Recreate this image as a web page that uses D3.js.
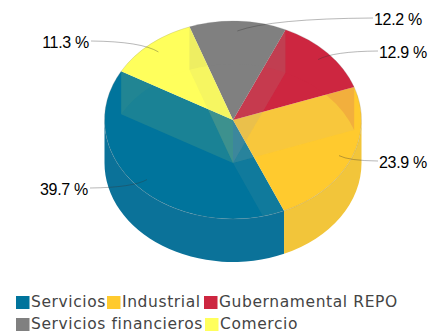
<!DOCTYPE html>
<html>
<head>
<meta charset="utf-8">
<script src="https://cdn.jsdelivr.net/npm/d3@7"></script>
<style>
  html, body { margin: 0; padding: 0; background: #fff; }
  svg { display: block; }
</style>
</head>
<body>
<div id="chart"></div>
<script>
// shares of the portfolio by sector, in percent
var categories = ["Servicios", "Industrial", "Gubernamental REPO", "Servicios financieros", "Comercio"];
var shares = [39.7, 23.9, 12.9, 12.2, 11.3];
var colors = ["#00749c", "#ffca2e", "#cd2640", "#808080", "#ffff5c"];
var sideColors = ["#0b7299", "#f2c53a", "#cd2640", "#808080", "#ffff5c"];
var wallTints = ["#00749c", "#e8d8a0", "#b8a8a0", "#9a9a9a", "#ffff5c"];
var wallAlpha = [0, 0.07, 0.07, 0.1, 0.1];
var rimAlpha = [0, 0, 0.15, 0.07, 0.03];

var width = 430, height = 332;
var cx = 233, cy = 120, rx = 128.5, ry = 99, depth = 43;
var rad = Math.PI / 180;

// label placement, same order as categories
var labelLayout = [
  {x: 90, y: 188, side: "left"},
  {x: 379, y: 161, side: "right"},
  {x: 379, y: 51, side: "right"},
  {x: 374, y: 18, side: "right"},
  {x: 91, y: 41, side: "left"}
];

var svg = d3.select("#chart").append("svg")
  .attr("width", width)
  .attr("height", height);

// pie runs counterclockwise, starting at the Comercio / Servicios edge
var pie = d3.pie().sort(null)
  .startAngle(299.5 * rad)
  .endAngle((299.5 - 360) * rad);
var slices = pie(shares).map(function(d, i) {
  return {a0: d.endAngle, a1: d.startAngle, i: i};
});

function pt(a, dy, k) {
  k = k === undefined ? 1 : k;
  return [cx + rx * k * Math.sin(a), cy - ry * k * Math.cos(a) + (dy || 0)];
}

// band between rim and rim pushed down by depth, a0 < a1
function band(a0, a1) {
  var p0 = pt(a0), p1 = pt(a1), q1 = pt(a1, depth), q0 = pt(a0, depth);
  return "M" + p0 + "A" + rx + " " + ry + " 0 0 1 " + p1 +
    "L" + q1 + "A" + rx + " " + ry + " 0 0 0 " + q0 + "Z";
}

function radialWall(a) {
  return "M" + [cx, cy] + "L" + pt(a) + "L" + pt(a, depth) + "L" + [cx, cy + depth] + "Z";
}

svg.append("defs").append("clipPath").attr("id", "topClip")
  .append("ellipse")
    .attr("cx", cx).attr("cy", cy).attr("rx", rx).attr("ry", ry);

// front side of the cylinder
var front = [
  {i: 0, a0: 156.6 * rad, a1: 270 * rad},
  {i: 1, a0: 90 * rad, a1: 156.6 * rad}
];
svg.append("g").selectAll("path")
  .data(front)
  .enter()
  .append("path")
    .attr("d", function(d) { return band(d.a0, d.a1); })
    .attr("fill", function(d) { return sideColors[d.i]; });

// top faces
var arc = d3.arc().innerRadius(0).outerRadius(rx);
svg.append("g")
    .attr("transform", "translate(" + cx + "," + cy + ") scale(1," + (ry / rx) + ")")
  .selectAll("path")
  .data(pie(shares))
  .enter()
  .append("path")
    .attr("d", arc)
    .attr("fill", function(d, i) { return colors[i]; });

// inner walls showing through the translucent top
var see = svg.append("g").attr("clip-path", "url(#topClip)");
slices.forEach(function(s) {
  [s.a0, s.a1].forEach(function(a) {
    see.append("path")
      .attr("d", radialWall(a))
      .attr("fill", wallTints[s.i])
      .attr("opacity", wallAlpha[s.i]);
  });
  // only the back part of the rim shows, and only the three back slices differ
  if (rimAlpha[s.i] > 0) {
    see.append("path")
      .attr("d", band(s.a0, s.a1))
      .attr("fill", colors[s.i])
      .attr("opacity", rimAlpha[s.i]);
  }
});

// rim
svg.append("ellipse")
    .attr("cx", cx).attr("cy", cy).attr("rx", rx).attr("ry", ry)
    .attr("fill", "none")
    .attr("stroke", "#888")
    .attr("stroke-opacity", 0.4)
    .attr("stroke-width", 0.6);

// leader lines
svg.append("g").selectAll("path")
  .data(pie(shares))
  .enter()
  .append("path")
    .attr("d", function(d, i) {
      var mid = (d.startAngle + d.endAngle) / 2;
      var p = pt(mid, 0, 0.9), l = labelLayout[i];
      var ex = l.side === "right" ? l.x - 1 : l.x;
      var path = d3.path();
      path.moveTo(p[0], p[1]);
      path.quadraticCurveTo(p[0] + (ex - p[0]) * 0.25, l.y + (p[1] - l.y) * 0.05, ex, l.y);
      return path.toString();
    })
    .attr("fill", "none")
    .attr("stroke", "#333")
    .attr("stroke-opacity", 0.35)
    .attr("stroke-width", 1);

// value labels
svg.append("g").selectAll("text")
  .data(shares)
  .enter()
  .append("text")
    .attr("x", function(d, i) { return labelLayout[i].x + (labelLayout[i].side === "right" ? 0 : -2); })
    .attr("y", function(d, i) { return labelLayout[i].y + 6.5; })
    .attr("text-anchor", function(d, i) { return labelLayout[i].side === "right" ? "start" : "end"; })
    .style("font-family", "'Liberation Sans', Arial, sans-serif")
    .style("font-size", "16px")
    .style("letter-spacing", "-0.3px")
    .attr("fill", "#000")
    .text(function(d) { return d.toFixed(1) + " %"; });

// legend, two rows
var legendRowY = [302.5, 324.5];
var legendX = [16, 107, 204, 16, 205];
categories.forEach(function(name, i) {
  var g = svg.append("g").attr("transform", "translate(" + legendX[i] + "," + legendRowY[i < 3 ? 0 : 1] + ")");
  g.append("rect")
    .attr("x", 0).attr("y", -6.5)
    .attr("width", 13.5).attr("height", 13)
    .attr("fill", colors[i]);
  g.append("text")
    .attr("x", 15).attr("y", 4)
    .style("font-family", "'DejaVu Sans', Verdana, sans-serif")
    .style("font-size", "15.5px")
    .style("letter-spacing", "0.6px")
    .attr("fill", "#444")
    .text(name);
});
</script>
</body>
</html>
